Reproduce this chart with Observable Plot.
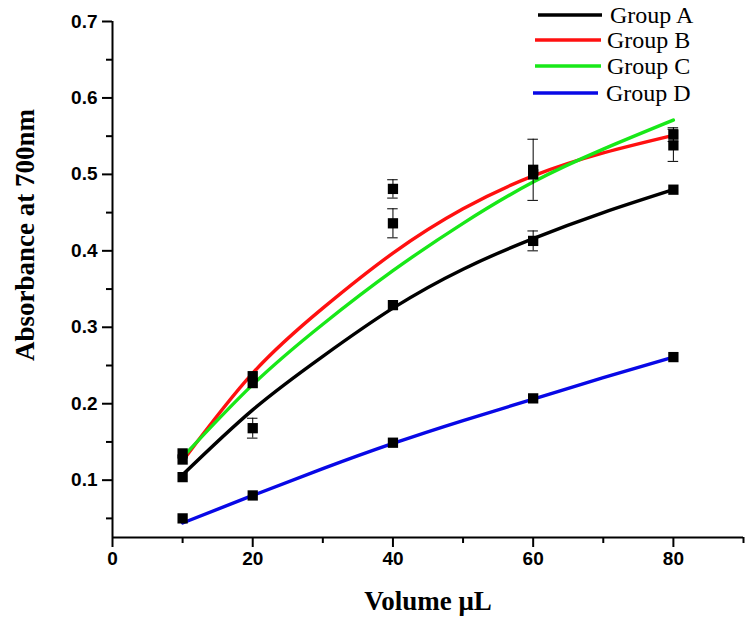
<!DOCTYPE html>
<html>
<head>
<meta charset="utf-8">
<script src="https://cdn.jsdelivr.net/npm/d3@7"></script>
<script src="https://cdn.jsdelivr.net/npm/@observablehq/plot@0.6"></script>
<style>
  body { margin: 0; background: #fff; }
  #wrap { position: relative; width: 750px; height: 621px; overflow: hidden; }
  .legend { position: absolute; left: 0; top: 0; width: 750px; height: 110px; pointer-events: none; }
  .ytitle { position: absolute; left: 25px; top: 235px; transform: translate(-50%, -50%) rotate(-90deg);
            font: bold 27px "Liberation Serif", serif; white-space: nowrap; color: #000; }
  .xtitle { position: absolute; left: 428px; top: 601px; transform: translate(-50%, -50%);
            font: bold 27px "Liberation Serif", serif; white-space: nowrap; color: #000; }
</style>
</head>
<body>
<div id="wrap"></div>
<script>
// Measured points
const xs = [10, 20, 40, 60, 80];
const groupA = [0.104, 0.168, 0.329, 0.413, 0.480];
const errA   = [0, 0.013, 0, 0.013, 0];
const groupB = [0.127, 0.236, 0.481, 0.500, 0.552];
const errB   = [0, 0, 0.012, 0, 0.009];
const groupC = [0.135, 0.227, 0.436, 0.506, 0.538];
const errC   = [0, 0, 0.019, 0.040, 0.021];
const groupD = [0.050, 0.080, 0.149, 0.207, 0.261];
const errD   = [0, 0, 0, 0, 0];

// Fitted curves
const fitX = [10, 20, 30, 40, 50, 60, 70, 80];
const fitA = [0.107, 0.192, 0.262, 0.325, 0.376, 0.416, 0.450, 0.480];
const fitB = [0.125, 0.240, 0.325, 0.397, 0.455, 0.498, 0.528, 0.551];
const fitC = [0.130, 0.225, 0.304, 0.374, 0.436, 0.490, 0.533, 0.571];
const fitD = [0.044, 0.080, 0.115, 0.148, 0.178, 0.206, 0.234, 0.261];

const groups = ["Group A", "Group B", "Group C", "Group D"];
const colors = ["#000000", "#ff1010", "#18e818", "#0808e6"];

const xMajor = [0, 20, 40, 60, 80];
const xMinor = [10, 30, 50, 70, 90];
const yMajor = [0.1, 0.2, 0.3, 0.4, 0.5, 0.6, 0.7];
const yMinor = [0.05, 0.15, 0.25, 0.35, 0.45, 0.55, 0.65];

const pointVals = [groupA, groupB, groupC, groupD];
const errVals = [errA, errB, errC, errD];
const fitVals = [fitA, fitB, fitC, fitD];

const points = [];
pointVals.forEach((vals, gi) => vals.forEach((v, i) =>
  points.push({group: groups[gi], x: xs[i], y: v, err: errVals[gi][i]})));
const errPts = points.filter(d => d.err > 0);
const fits = [];
fitVals.forEach((vals, gi) => vals.forEach((v, i) =>
  fits.push({group: groups[gi], x: fitX[i], y: v})));

const capHalf = 0.75;

const chart = Plot.plot({
  width: 750,
  height: 621,
  marginTop: 21,
  marginBottom: 84,
  marginLeft: 112,
  marginRight: 7,
  style: {fontFamily: "'Liberation Sans', Arial, sans-serif", fontSize: "19px", fontWeight: "bold", color: "#000", background: "#fff"},
  x: {domain: [0, 90]},
  y: {domain: [0.025, 0.7]},
  color: {domain: groups, range: colors},
  marks: [
    Plot.axisX({ticks: xMajor, tickSize: 10, tickPadding: 4, strokeWidth: 2, tickFormat: d3.format("d"), label: null}),
    Plot.axisX({ticks: xMinor, tickSize: 6, strokeWidth: 2, tickFormat: () => "", label: null}),
    Plot.axisY({ticks: yMajor, tickSize: 10, tickPadding: 5, strokeWidth: 2, tickFormat: d3.format(".1f"), label: null}),
    Plot.axisY({ticks: yMinor, tickSize: 6, strokeWidth: 2, tickFormat: () => "", label: null}),
    Plot.ruleX([0], {strokeWidth: 2}),
    Plot.ruleY([0.025], {strokeWidth: 2}),
    Plot.line(fits, {x: "x", y: "y", z: "group", stroke: "group", strokeWidth: 3.4, curve: "natural"}),
    Plot.ruleX(errPts, {x: "x", y1: d => d.y - d.err, y2: d => d.y + d.err, stroke: "#000", strokeWidth: 1}),
    Plot.ruleY(errPts, {y: d => d.y - d.err, x1: d => d.x - capHalf, x2: d => d.x + capHalf, stroke: "#000", strokeWidth: 1}),
    Plot.ruleY(errPts, {y: d => d.y + d.err, x1: d => d.x - capHalf, x2: d => d.x + capHalf, stroke: "#000", strokeWidth: 1}),
    Plot.dot(points, {x: "x", y: "y", symbol: "square", r: 5.8, fill: "#000", stroke: "none"})
  ]
});

const wrap = document.getElementById("wrap");
wrap.appendChild(chart);

// Legend (top right)
const legendRows = [
  {x1: 538, x2: 602, tx: 610, cy: 15},
  {x1: 535, x2: 601, tx: 607, cy: 40},
  {x1: 535, x2: 601, tx: 607, cy: 66},
  {x1: 533, x2: 598, tx: 606, cy: 93}
];
const lsvg = d3.create("svg").attr("class", "legend").attr("width", 750).attr("height", 110);
groups.forEach((g, i) => {
  const r = legendRows[i];
  lsvg.append("line").attr("x1", r.x1).attr("x2", r.x2).attr("y1", r.cy).attr("y2", r.cy)
    .attr("stroke", colors[i]).attr("stroke-width", 3.4);
  lsvg.append("text").attr("x", r.tx).attr("y", r.cy).attr("dy", "0.35em")
    .attr("font-family", "'Liberation Serif', 'Times New Roman', serif").attr("font-size", 24)
    .attr("fill", "#000").text(g);
});
wrap.appendChild(lsvg.node());

const yt = document.createElement("div");
yt.className = "ytitle"; yt.textContent = "Absorbance at 700nm";
wrap.appendChild(yt);
const xt = document.createElement("div");
xt.className = "xtitle"; xt.textContent = "Volume μL";
wrap.appendChild(xt);
</script>
</body>
</html>
